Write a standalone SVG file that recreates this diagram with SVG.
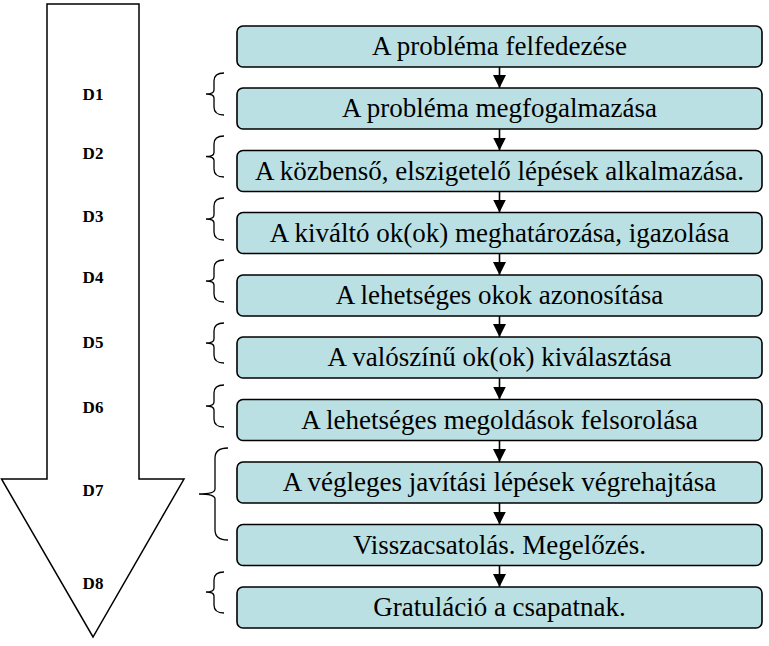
<svg xmlns="http://www.w3.org/2000/svg" width="769" height="646" viewBox="0 0 769 646">
<defs>
<style>
.box{fill:#bae0e4;stroke:#000;stroke-width:1.6}
.bt{font-size:27px;fill:#000;text-anchor:middle}
.dl{font-size:17px;font-weight:bold;fill:#000;text-anchor:middle}
.br{fill:none;stroke:#000;stroke-width:1.3}
.cn{stroke:#000;stroke-width:1.6;fill:none}
</style>
<marker id="ah" markerUnits="userSpaceOnUse" markerWidth="14" markerHeight="14" refX="13" refY="6.5" orient="auto">
<path d="M0,0 L13,6.5 L0,13 Z" fill="#000"/>
</marker>
</defs>
<rect width="769" height="646" fill="#fff"/>
<g id="big-arrow" font-family="Liberation Serif, serif">
<polygon points="47,4 139,4 139,479 184,479 93,637 1.5,479 47,479" fill="#fff" stroke="#000" stroke-width="1.5"/>
<text class="dl" x="93" y="100">D1</text>
<text class="dl" x="93" y="159">D2</text>
<text class="dl" x="93" y="222">D3</text>
<text class="dl" x="93" y="283">D4</text>
<text class="dl" x="93" y="348">D5</text>
<text class="dl" x="93" y="413">D6</text>
<text class="dl" x="93" y="496">D7</text>
<text class="dl" x="93" y="589">D8</text>
</g>
<g id="braces">
<path class="br" d="M224,73 Q214,73 214,81 L214,90 Q214,94 206,94 Q214,94 214,98 L214,107 Q214,115 224,115"/>
<path class="br" d="M224,136 Q214,136 214,144 L214,152.5 Q214,156.5 206,156.5 Q214,156.5 214,160.5 L214,169 Q214,177 224,177"/>
<path class="br" d="M224,198 Q214,198 214,206 L214,215 Q214,219 206,219 Q214,219 214,223 L214,232 Q214,240 224,240"/>
<path class="br" d="M224,260 Q214,260 214,268 L214,277 Q214,281 206,281 Q214,281 214,285 L214,294 Q214,302 224,302"/>
<path class="br" d="M224,323 Q214,323 214,331 L214,339 Q214,343 206,343 Q214,343 214,347 L214,355 Q214,363 224,363"/>
<path class="br" d="M224,385 Q214,385 214,393 L214,402 Q214,406 206,406 Q214,406 214,410 L214,419 Q214,427 224,427"/>
<path class="br" d="M228,448 Q215,448 215,458 L215,489 Q215,494 199,494 Q215,494 215,499 L215,530 Q215,540 228,540"/>
<path class="br" d="M224,572 Q214,572 214,580 L214,588 Q214,592 206,592 Q214,592 214,596 L214,605 Q214,613 224,613"/>
</g>
<g id="connectors">
<line class="cn" x1="499.5" y1="67" x2="499.5" y2="88" marker-end="url(#ah)"/>
<line class="cn" x1="499.5" y1="129" x2="499.5" y2="150.5" marker-end="url(#ah)"/>
<line class="cn" x1="499.5" y1="191.5" x2="499.5" y2="212.5" marker-end="url(#ah)"/>
<line class="cn" x1="499.5" y1="253.5" x2="499.5" y2="275" marker-end="url(#ah)"/>
<line class="cn" x1="499.5" y1="316" x2="499.5" y2="337" marker-end="url(#ah)"/>
<line class="cn" x1="499.5" y1="378" x2="499.5" y2="399.5" marker-end="url(#ah)"/>
<line class="cn" x1="499.5" y1="440.5" x2="499.5" y2="462" marker-end="url(#ah)"/>
<line class="cn" x1="499.5" y1="503" x2="499.5" y2="524.5" marker-end="url(#ah)"/>
<line class="cn" x1="499.5" y1="565.5" x2="499.5" y2="587" marker-end="url(#ah)"/>
</g>
<g id="nodes" font-family="Liberation Serif, serif">
<g id="n1"><rect class="box" x="237" y="26" width="525" height="41" rx="6"/><text class="bt" x="499.5" y="55">A probléma felfedezése</text></g>
<g id="n2"><rect class="box" x="237" y="88" width="525" height="41" rx="6"/><text class="bt" x="499.5" y="117">A probléma megfogalmazása</text></g>
<g id="n3"><rect class="box" x="237" y="150.5" width="525" height="41" rx="6"/><text class="bt" x="499.5" y="179.5">A közbenső, elszigetelő lépések alkalmazása.</text></g>
<g id="n4"><rect class="box" x="237" y="212.5" width="525" height="41" rx="6"/><text class="bt" x="499.5" y="241.5">A kiváltó ok(ok) meghatározása, igazolása</text></g>
<g id="n5"><rect class="box" x="237" y="275" width="525" height="41" rx="6"/><text class="bt" x="499.5" y="304">A lehetséges okok azonosítása</text></g>
<g id="n6"><rect class="box" x="237" y="337" width="525" height="41" rx="6"/><text class="bt" x="499.5" y="366">A valószínű ok(ok) kiválasztása</text></g>
<g id="n7"><rect class="box" x="237" y="399.5" width="525" height="41" rx="6"/><text class="bt" x="499.5" y="428.5">A lehetséges megoldások felsorolása</text></g>
<g id="n8"><rect class="box" x="237" y="462" width="525" height="41" rx="6"/><text class="bt" x="499.5" y="491">A végleges javítási lépések végrehajtása</text></g>
<g id="n9"><rect class="box" x="237" y="524.5" width="525" height="41" rx="6"/><text class="bt" x="499.5" y="553.5">Visszacsatolás. Megelőzés.</text></g>
<g id="n10"><rect class="box" x="237" y="587" width="525" height="41" rx="6"/><text class="bt" x="499.5" y="616">Gratuláció a csapatnak.</text></g>
</g>
</svg>
